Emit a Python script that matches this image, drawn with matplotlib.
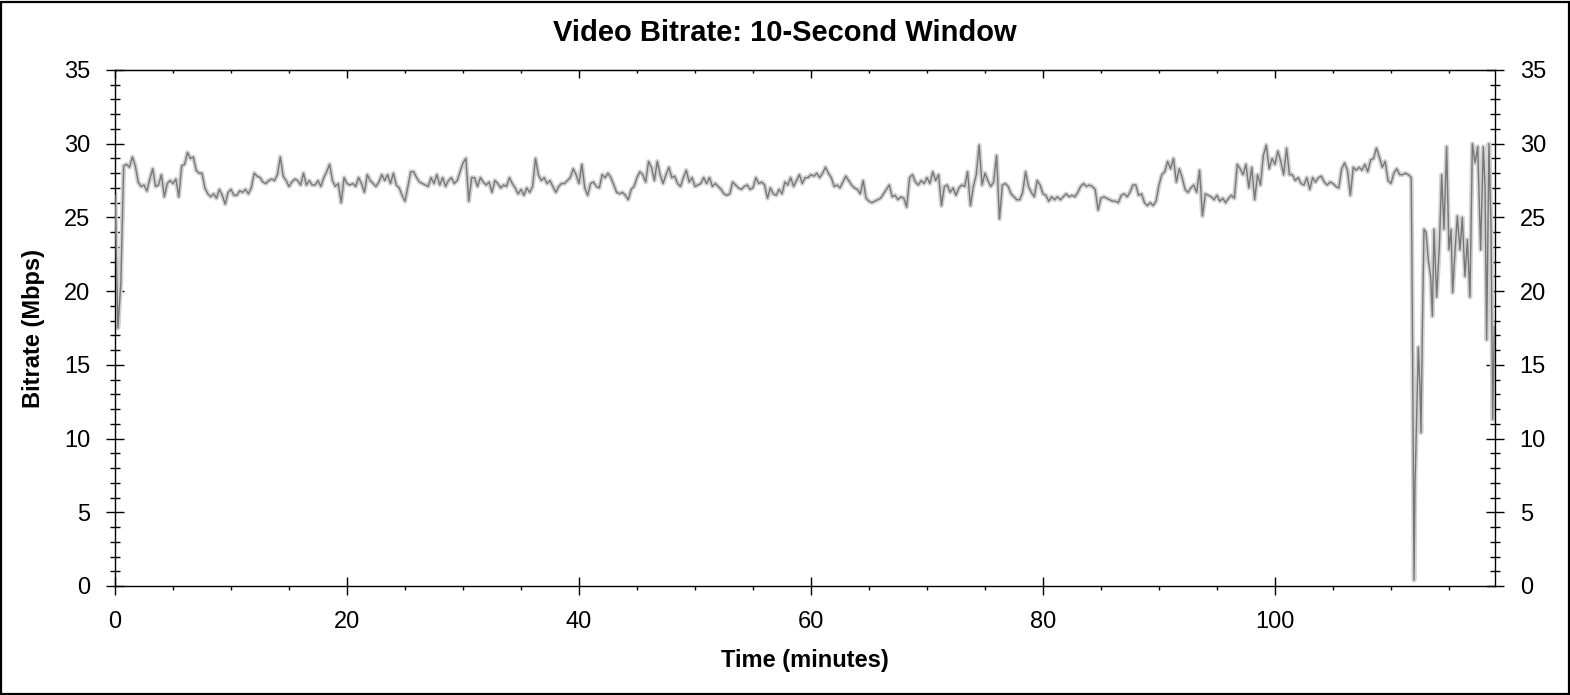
import numpy as np
import matplotlib
matplotlib.use("Agg")
import matplotlib.pyplot as plt
from matplotlib.ticker import MultipleLocator
from matplotlib.patches import Rectangle

plt.rcParams['font.family'] = ['Liberation Sans', 'DejaVu Sans']

# Bitrate (Mbps) sampled every 0.25 minute from 0 to 111.75 min
step_minutes = 0.25
bitrate_main = [
    # 0 - 17.0
    26.5, 17.5, 20.5, 28.5, 28.6, 28.4, 29.1, 28.5, 27.4, 27.1, 27.2, 26.8, 27.6, 28.3, 27.1, 27.2,
    27.9, 26.4, 27.3, 27.5, 27.3, 27.6, 26.4, 28.5, 28.6, 29.4, 29.0, 29.1, 28.2, 28.0, 28.0, 27.0,
    26.6, 26.4, 26.6, 26.3, 26.9, 26.5, 25.9, 26.7, 26.9, 26.5, 26.5, 26.8, 26.7, 26.9, 26.6, 27.0,
    28.0, 27.8, 27.7, 27.4, 27.3, 27.5, 27.6, 27.5, 27.9, 29.1, 27.8, 27.5, 27.1, 27.4, 27.6, 27.5,
    27.2, 28.0, 27.2, 27.5, 27.2,
    # 17.25 - 34.25
    27.2, 27.5, 27.1, 27.7, 28.1, 28.6, 27.5, 27.1, 27.3, 26.0, 27.7, 27.3, 27.2, 27.3, 27.1, 27.7,
    27.3, 26.7, 27.9, 27.5, 27.3, 27.1, 27.4, 27.9, 27.5, 27.9, 27.3, 28.0, 27.2, 27.0, 26.5, 26.1,
    27.1, 28.1, 28.1, 27.7, 27.4, 27.3, 27.2, 27.1, 27.7, 27.3, 27.9, 27.2, 27.7, 27.1, 27.5, 27.7,
    27.3, 27.5, 28.1, 28.7, 29.0, 26.1, 27.7, 27.7, 27.1, 27.7, 27.4, 27.2, 27.4, 26.7, 27.5, 27.3,
    27.0, 27.2, 27.1, 27.7, 27.3,
    # 34.5 - 51.5
    27.0, 26.6, 26.9, 26.5, 27.0, 26.7, 27.1, 29.0, 27.9, 27.5, 27.7, 27.3, 27.5, 27.1, 26.7, 27.1,
    27.3, 27.3, 27.5, 27.7, 28.3, 27.9, 27.3, 28.6, 27.0, 26.5, 27.3, 27.4, 27.1, 27.0, 27.9, 27.7,
    28.0, 27.7, 27.2, 26.7, 26.6, 26.7, 26.5, 26.2, 26.9, 27.1, 27.7, 28.1, 27.9, 27.4, 28.8, 28.4,
    27.5, 28.8, 27.9, 27.3, 27.9, 28.4, 27.7, 27.8, 27.3, 27.1, 27.7, 28.2, 27.4, 27.7, 27.1, 27.2,
    27.3, 27.7, 27.3, 27.7, 27.1,
    # 51.75 - 68.75
    27.3, 27.1, 26.9, 26.6, 26.5, 26.6, 27.4, 27.2, 27.0, 26.9, 27.1, 27.2, 26.9, 27.0, 27.7, 27.3,
    27.4, 27.2, 26.3, 27.0, 26.6, 26.5, 26.9, 26.6, 27.4, 27.2, 27.7, 27.1, 27.5, 27.9, 27.3, 27.7,
    27.7, 27.9, 27.8, 28.0, 27.7, 28.0, 28.4, 28.0, 27.7, 27.1, 27.2, 27.0, 27.4, 27.8, 27.5, 27.2,
    27.0, 26.9, 26.6, 27.5, 26.3, 26.1, 26.0, 26.1, 26.2, 26.3, 26.6, 26.9, 27.2, 26.4, 26.5, 26.2,
    26.4, 26.3, 25.7, 27.7, 27.9,
    # 69.0 - 86.0
    27.4, 27.2, 27.5, 27.3, 27.7, 27.3, 28.1, 27.5, 27.9, 25.8, 27.1, 27.2, 26.7, 27.0, 26.5, 27.0,
    27.2, 27.1, 28.1, 25.8, 27.1, 27.9, 29.9, 27.2, 28.0, 27.5, 27.1, 27.4, 29.2, 24.9, 27.2, 27.3,
    27.1, 26.6, 26.4, 26.2, 26.2, 26.7, 28.1, 27.1, 26.7, 26.4, 27.5, 27.2, 26.6, 26.5, 26.1, 26.4,
    26.2, 26.4, 26.2, 26.4, 26.6, 26.4, 26.5, 26.4, 26.7, 27.1, 27.3, 27.1, 27.2, 27.1, 26.9, 25.5,
    26.3, 26.4, 26.3, 26.2, 26.1,
    # 86.25 - 103.25
    26.1, 26.0, 26.5, 26.6, 26.4, 26.7, 27.2, 27.2, 26.5, 26.6, 26.0, 25.8, 26.0, 25.8, 26.1, 27.2,
    27.9, 28.1, 28.8, 28.3, 29.0, 27.4, 28.3, 27.7, 26.9, 26.7, 27.0, 27.2, 26.7, 28.2, 25.1, 26.6,
    26.5, 26.4, 26.2, 26.5, 26.1, 26.3, 26.0, 26.3, 26.5, 26.3, 28.6, 28.3, 27.9, 28.6, 27.0, 28.4,
    26.2, 27.9, 27.2, 29.2, 29.9, 28.3, 29.0, 28.6, 29.5, 28.8, 27.9, 29.7, 27.9, 27.9, 27.5, 27.7,
    27.3, 27.2, 27.7, 26.9, 27.7,
    # 103.5 - 111.75
    27.4, 27.7, 27.8, 27.4, 27.2, 27.4, 27.3, 27.1, 27.0, 28.3, 28.7, 28.2, 26.5, 28.4, 28.2, 28.4,
    28.2, 28.6, 28.1, 28.9, 29.0, 29.7, 29.1, 28.4, 28.8, 27.5, 27.3, 28.0, 28.3, 27.9, 27.9, 28.0,
    27.9, 27.7,
]

# Final section (after ~111.8 min) with large swings
time_end = [111.84, 111.93, 111.99, 112.07, 112.22, 112.36, 112.50, 112.59, 112.73, 112.85,
            113.02, 113.22, 113.42, 113.57, 113.71, 113.94, 114.17, 114.37, 114.57, 114.80,
            115.00, 115.18, 115.32, 115.46, 115.72, 115.95, 116.15, 116.38, 116.59, 116.81,
            117.02, 117.25, 117.48, 117.73, 117.96, 118.11, 118.25, 118.45, 118.63, 118.77,
            118.91]
bitrate_end = [19.0, 8.0, 0.4, 6.7, 11.7, 16.2, 13.5, 10.4, 18.5, 24.2,
               24.0, 22.1, 21.0, 18.3, 24.2, 19.6, 23.0, 27.9, 24.2, 29.8,
               22.8, 24.2, 19.9, 21.9, 25.1, 22.8, 25.0, 21.0, 23.5, 19.6,
               30.0, 28.7, 29.8, 22.8, 29.8, 27.1, 16.7, 30.0, 24.2, 11.3,
               17.6]

x_max = 118.97
title = "Video Bitrate: 10-Second Window"
xlabel = "Time (minutes)"
ylabel = "Bitrate (Mbps)"

time_main = np.arange(len(bitrate_main)) * step_minutes
t = np.concatenate([time_main, np.array(time_end)])
v = np.concatenate([np.array(bitrate_main), np.array(bitrate_end)])

W, H = 1570, 695
fig = plt.figure(figsize=(W / 100, H / 100), dpi=100)
fig.patches.append(Rectangle((0.0006, 0.001), 0.9985, 0.996, transform=fig.transFigure,
                             fill=False, edgecolor='black', linewidth=1.6, zorder=10))
ax = fig.add_axes([115 / W, 1 - 586 / H, (1495 - 115) / W, (586 - 70) / H])

ax.plot(t, v, color='#d2d2d2', linewidth=3.4, solid_joinstyle='round', zorder=2)
ax.plot(t, v, color='#777777', linewidth=1.0, zorder=3)

ax.set_xlim(0, x_max)
ax.set_ylim(0, 35)
ax.xaxis.set_major_locator(MultipleLocator(20))
ax.xaxis.set_minor_locator(MultipleLocator(5))
ax.yaxis.set_major_locator(MultipleLocator(5))
ax.yaxis.set_minor_locator(MultipleLocator(1))

for s in ax.spines.values():
    s.set_linewidth(1.0)

ax.tick_params(axis='x', which='major', direction='inout', length=13.5, width=1.0,
               labelsize=17, pad=11, top=False)
ax.tick_params(axis='x', which='minor', direction='out', length=3, width=1.0, top=False)
ax.tick_params(axis='y', which='major', direction='inout', length=13.5, width=1.0,
               labelsize=17, pad=11, left=True, right=True, labelright=True)
ax.tick_params(axis='y', which='minor', direction='inout', length=6.5, width=1.0,
               left=True, right=True)

top = ax.secondary_xaxis('top')
top.xaxis.set_major_locator(MultipleLocator(20))
top.xaxis.set_minor_locator(MultipleLocator(5))
top.tick_params(axis='x', which='major', direction='in', length=6, width=1.0, labeltop=False)
top.tick_params(axis='x', which='minor', direction='in', length=2.5, width=1.0)

fig.text(0.5, 1 - 33 / H, title, fontsize=21, fontweight='bold', ha='center', va='center')
ax.set_xlabel(xlabel, fontsize=17, fontweight='bold', labelpad=12)
ax.set_ylabel(ylabel, fontsize=17, fontweight='bold', labelpad=14)

fig.savefig("out.png", dpi=100)
